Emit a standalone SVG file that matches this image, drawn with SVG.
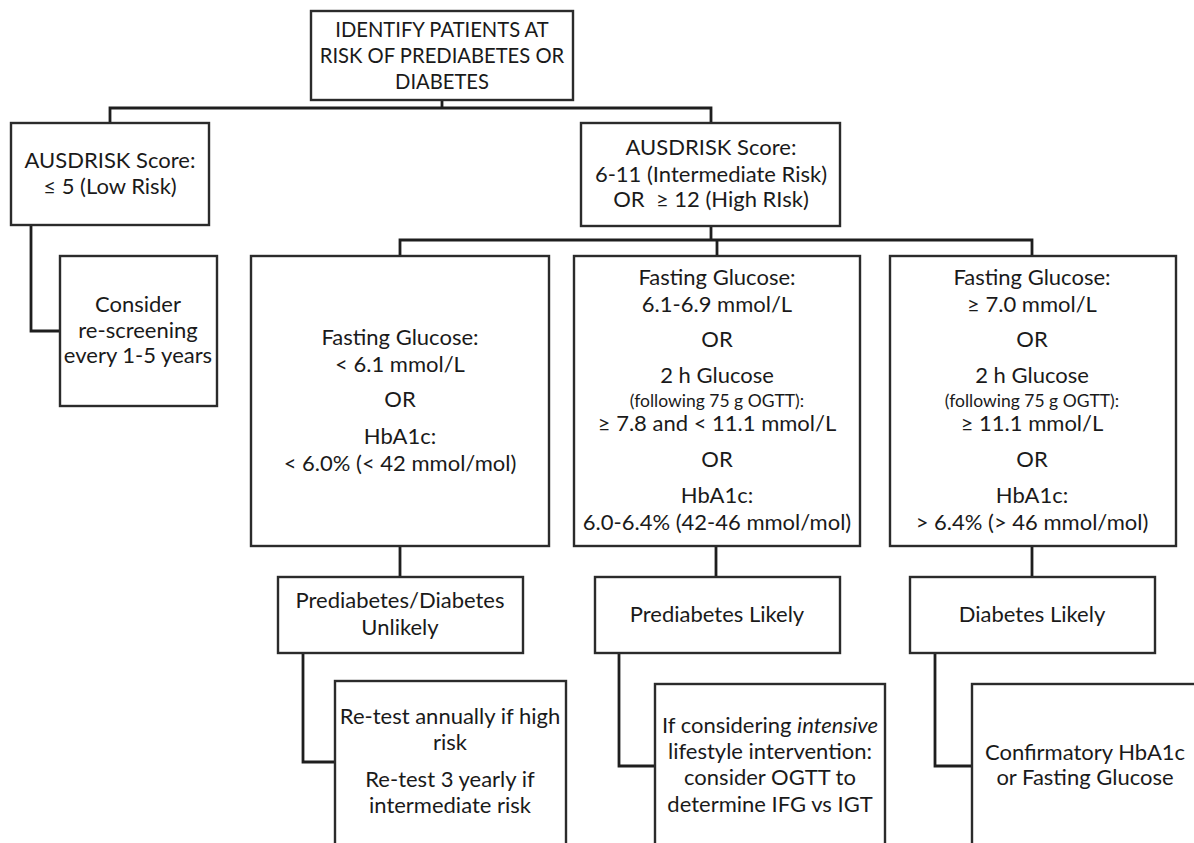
<svg xmlns="http://www.w3.org/2000/svg" width="1194" height="843" viewBox="0 0 1194 843">
<style>
.box{fill:#fff;stroke:#2b2b2b;stroke-width:2.4}
.ln{fill:none;stroke:#1e1e1e;stroke-width:2.8}
text{font-family:Lato,"Open Sans","Liberation Sans",sans-serif;font-size:22px;fill:#1a1a1a;text-anchor:middle}
.sm{font-size:17.5px}
.hd{font-size:20.2px}
</style>
<rect width="1194" height="843" fill="#fff"/>
<g id="connectors">
<path class="ln" d="M442 100V108M110 123V108H711V123"/>
<path class="ln" d="M31 225V331H60"/>
<path class="ln" d="M711 226V240M400 256V240H1032V256M717 240V256"/>
<path class="ln" d="M400 546V577M716 546V577M1032 546V577"/>
<path class="ln" d="M303 653V762H335M619 653V766H655M935 653V766H972"/>
</g>
<g id="n-identify">
<rect class="box" x="311" y="11" width="262" height="89"/>
<text class="hd" x="442" y="37">IDENTIFY PATIENTS AT</text>
<text class="hd" x="442" y="63">RISK OF PREDIABETES OR</text>
<text class="hd" x="442" y="89">DIABETES</text>
</g>
<g id="n-low">
<rect class="box" x="11" y="123" width="198" height="102"/>
<text x="110" y="168">AUSDRISK Score:</text>
<text x="110" y="194">≤ 5 (Low Risk)</text>
</g>
<g id="n-rescreen">
<rect class="box" x="60" y="256" width="157" height="150"/>
<text x="138" y="312">Consider</text>
<text x="138" y="338">re-screening</text>
<text x="138" y="363">every 1-5 years</text>
</g>
<g id="n-high">
<rect class="box" x="581" y="123" width="259" height="103"/>
<text x="711" y="155">AUSDRISK Score:</text>
<text x="711" y="182">6-11 (Intermediate Risk)</text>
<text x="711" y="207" xml:space="preserve">OR  ≥ 12 (High RIsk)</text>
</g>
<g id="n-normal">
<rect class="box" x="251" y="256" width="298" height="290"/>
<text x="400" y="345">Fasting Glucose:</text>
<text x="400" y="372">&lt; 6.1 mmol/L</text>
<text x="400" y="407">OR</text>
<text x="400" y="444">HbA1c:</text>
<text x="400" y="471">&lt; 6.0% (&lt; 42 mmol/mol)</text>
</g>
<g id="n-pre">
<rect class="box" x="574" y="256" width="286" height="290"/>
<text x="717" y="285">Fasting Glucose:</text>
<text x="717" y="312">6.1-6.9 mmol/L</text>
<text x="717" y="347">OR</text>
<text x="717" y="383">2 h Glucose</text>
<text class="sm" x="717" y="407">(following 75 g OGTT):</text>
<text x="717" y="431">≥ 7.8 and &lt; 11.1 mmol/L</text>
<text x="717" y="467">OR</text>
<text x="717" y="503">HbA1c:</text>
<text x="717" y="530">6.0-6.4% (42-46 mmol/mol)</text>
</g>
<g id="n-diab">
<rect class="box" x="890" y="256" width="286" height="290"/>
<text x="1032" y="285">Fasting Glucose:</text>
<text x="1032" y="312">≥ 7.0 mmol/L</text>
<text x="1032" y="347">OR</text>
<text x="1032" y="383">2 h Glucose</text>
<text class="sm" x="1032" y="407">(following 75 g OGTT):</text>
<text x="1032" y="431">≥ 11.1 mmol/L</text>
<text x="1032" y="467">OR</text>
<text x="1032" y="503">HbA1c:</text>
<text x="1032" y="530">&gt; 6.4% (&gt; 46 mmol/mol)</text>
</g>
<g id="n-unlikely">
<rect class="box" x="278" y="577" width="245" height="76"/>
<text x="400" y="608">Prediabetes/Diabetes</text>
<text x="400" y="635">Unlikely</text>
</g>
<g id="n-prelikely">
<rect class="box" x="595" y="577" width="245" height="76"/>
<text x="717" y="622">Prediabetes Likely</text>
</g>
<g id="n-diablikely">
<rect class="box" x="910" y="577" width="245" height="76"/>
<text x="1032" y="622">Diabetes Likely</text>
</g>
<g id="n-retest">
<rect class="box" x="335" y="681" width="231" height="180"/>
<text x="450" y="724">Re-test annually if high</text>
<text x="450" y="750">risk</text>
<text x="450" y="787">Re-test 3 yearly if</text>
<text x="450" y="813">intermediate risk</text>
</g>
<g id="n-ogtt">
<rect class="box" x="655" y="684" width="230" height="180"/>
<text x="770" y="733">If considering <tspan font-style="italic">intensive</tspan></text>
<text x="770" y="759">lifestyle intervention:</text>
<text x="770" y="785">consider OGTT to</text>
<text x="770" y="812">determine IFG vs IGT</text>
</g>
<g id="n-confirm">
<rect class="box" x="972" y="684" width="240" height="180"/>
<text x="1085" y="760">Confirmatory HbA1c</text>
<text x="1085" y="785">or Fasting Glucose</text>
</g>
</svg>
